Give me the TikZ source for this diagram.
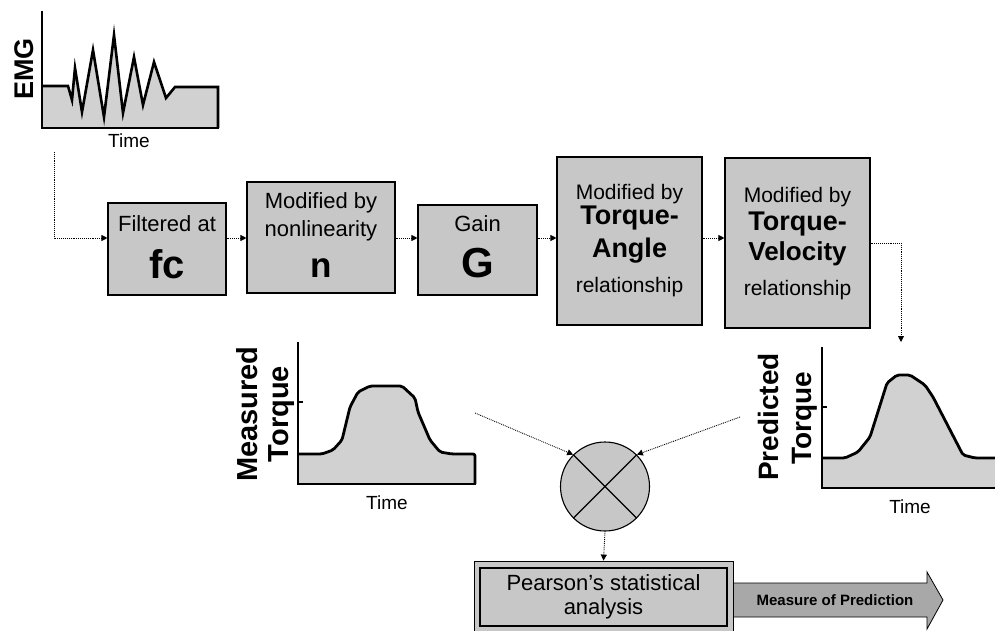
\documentclass[tikz,border=0pt]{standalone}
\usepackage{fontspec}
\setmainfont{Liberation Sans}
\usetikzlibrary{arrows.meta}
\newcommand\fsz[1]{\fontsize{#1pt}{#1pt}\selectfont}
\definecolor{boxgray}{gray}{0.78}
\definecolor{plotgray}{gray}{0.82}
\definecolor{arrowgray}{gray}{0.66}
\tikzset{
  stage/.style={draw=black, line width=1.1pt, fill=boxgray, inner sep=0pt},
  lbl/.style={inner sep=0pt, anchor=base},
  flow/.style={densely dotted, line width=0.9pt, -{Triangle[length=6pt,width=6pt]}},
  axisline/.style={line width=2.2pt, line cap=rect},
  curve/.style={line width=2.8pt, line join=round, rounded corners=2pt},
}
\begin{document}
\begin{tikzpicture}[x=1pt, y=-1pt]
\useasboundingbox (0,0) rectangle (995,631);

% ---------- EMG trace ----------
\fill[plotgray] (42,86) -- (68,86) -- (72,100) -- (75,68) -- (82,112) -- (93,50) -- (104,117)
  -- (114,35) -- (123,113) -- (134,57) -- (143,105) -- (154,62) -- (166,98) -- (175,87)
  -- (218,87) -- (218,128) -- (42,128) -- cycle;
\draw[line width=2.6pt, line join=miter] (42,86) -- (68,86) -- (72,100) -- (75,68) -- (82,112) -- (93,50) -- (104,117)
  -- (114,35) -- (123,113) -- (134,57) -- (143,105) -- (154,62) -- (166,98) -- (175,87)
  -- (218,87) -- (218,128);
\draw[axisline] (42,12) -- (42,128) -- (218,128);
\node[lbl, rotate=90] (emglabel) at (33,69) {\fsz{27}\bfseries EMG};
\node[lbl] (emgtime) at (129,148) {\fsz{19}Time};
\coordinate (emgout) at (54,152);

% ---------- processing chain ----------
\coordinate (row) at (0,238);
\node[stage, minimum width=118pt, minimum height=92pt]  (b1) at (167,249) {};
\node[stage, minimum width=148pt, minimum height=111pt] (b2) at (321,237.5) {};
\node[stage, minimum width=119pt, minimum height=90pt]  (b3) at (477.5,250) {};
\node[stage, minimum width=145pt, minimum height=168pt] (b4) at (629.5,241) {};
\node[stage, minimum width=145pt, minimum height=170pt] (b5) at (797.5,243) {};

\node[lbl] (b1a) at (167,231) {\fsz{22}Filtered at};
\node[lbl] (b1b) at (167,278) {\fsz{40}\bfseries fc};

\node[lbl] (b2a) at (321,208) {\fsz{22}Modified by};
\node[lbl] (b2b) at (321,236) {\fsz{22}nonlinearity};
\node[lbl] (b2c) at (321,277) {\fsz{35}\bfseries n};

\node[lbl] (b3a) at (477.5,231) {\fsz{22}Gain};
\node[lbl] (b3b) at (477.5,277) {\fsz{42}\bfseries G};

\node[lbl] (b4a) at (629.5,200) {\fsz{21}Modified by};
\node[lbl] (b4b) at (629.5,224) {\fsz{27}\bfseries Torque-};
\node[lbl] (b4c) at (629.5,257) {\fsz{27}\bfseries Angle};
\node[lbl] (b4d) at (629.5,292) {\fsz{21}relationship};

\node[lbl] (b5a) at (797.5,203) {\fsz{21}Modified by};
\node[lbl] (b5b) at (797.5,230) {\fsz{27}\bfseries Torque-};
\node[lbl] (b5c) at (797.5,260) {\fsz{26}\bfseries Velocity};
\node[lbl] (b5d) at (797.5,295) {\fsz{21}relationship};

\draw[flow] (emgout) |- (b1.west |- row);
\draw[flow] (b1.east |- row) -- (b2.west |- row);
\draw[flow] (b2.east |- row) -- (b3.west |- row);
\draw[flow] (b3.east |- row) -- (b4.west |- row);
\draw[flow] (b4.east |- row) -- (b5.west |- row);
\coordinate (predin) at (901,342);
\draw[flow] (b5.east) -| (predin);

% ---------- measured torque ----------
\fill[plotgray] (298,454) -- (322,454) -- (333,450) -- (342,440) -- (350,407) -- (358,392)
  -- (370,386) -- (402,386) -- (415,398) -- (418,412) -- (430,440) -- (440,452) -- (452,454)
  -- (475,454) -- (475,484) -- (298,484) -- cycle;
\draw[curve] (298,454) -- (322,454) -- (333,450) -- (342,440) -- (350,407) -- (358,392)
  -- (370,386) -- (402,386) -- (415,398) -- (418,412) -- (430,440) -- (440,452) -- (452,454)
  -- (475,454) -- (475,484);
\draw[axisline] (298,343) -- (298,484) -- (475,484);
\draw[line width=1.2pt] (298,402) -- (303,402);
\node[lbl, rotate=90] (measa) at (257,414) {\fsz{29}\bfseries Measured};
\node[lbl, rotate=90] (measb) at (288,414) {\fsz{29}\bfseries Torque};
\node[lbl] (meastime) at (387,509) {\fsz{19}Time};
\coordinate (measout) at (475,413);

% ---------- predicted torque ----------
\fill[plotgray] (822,458) -- (845,458) -- (858,452) -- (870,437) -- (887,383) -- (897,375)
  -- (910,375) -- (925,385) -- (933,397) -- (963,455) -- (975,458) -- (996,458)
  -- (996,488) -- (822,488) -- cycle;
\draw[curve] (822,458) -- (845,458) -- (858,452) -- (870,437) -- (887,383) -- (897,375)
  -- (910,375) -- (925,385) -- (933,397) -- (963,455) -- (975,458) -- (996,458);
\draw[axisline] (822,348) -- (822,488) -- (996,488);
\draw[line width=1.2pt] (822,407) -- (827,407);
\node[lbl, rotate=90] (preda) at (778,417) {\fsz{28}\bfseries Predicted};
\node[lbl, rotate=90] (predb) at (811,418) {\fsz{28}\bfseries Torque};
\node[lbl] (predtime) at (910,513) {\fsz{19}Time};
\coordinate (predout) at (740,417);

% ---------- comparison ----------
\node[circle, draw=black, line width=1.1pt, fill=boxgray, minimum size=89pt, inner sep=0pt] (cmp) at (605,486.5) {};
\draw[line width=1.1pt] (cmp.45) -- (cmp.225) (cmp.135) -- (cmp.315);
\draw[flow] (measout) -- (cmp.135);
\draw[flow] (predout) -- (cmp.45);

% ---------- output arrow ----------
\draw[line width=0.8pt, fill=arrowgray] (733,583) -- (927,583) -- (927,572) -- (943,600)
  -- (927,629) -- (927,617) -- (733,617) -- cycle;
\node[inner sep=0pt] (mop) at (835,600) {\fsz{15}\bfseries Measure of Prediction};

% ---------- correlation analysis ----------
\node[draw=black, line width=0.8pt, fill=boxgray, minimum width=259pt, minimum height=72pt, inner sep=0pt] (pearson) at (603.5,597) {};
\node[draw=black, line width=1.3pt, fill=boxgray, minimum width=247pt, minimum height=58pt, inner sep=0pt,
  align=center, font=\fsz{22}] (pearsonin) at (603.5,597) {Pearson's statistical\\[2pt]analysis};
\draw[flow] (cmp.south) -- (pearson.north);
\end{tikzpicture}
\end{document}
